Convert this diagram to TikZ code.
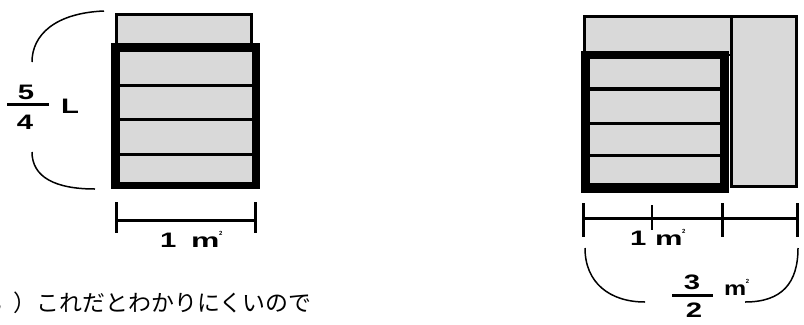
\documentclass[tikz,border=0pt]{standalone}
\usepackage{fontspec}
\usepackage{graphicx}
\setmainfont{Liberation Sans}
\newfontfamily\widesans{Liberation Sans}[FakeStretch=1.4]
\newfontfamily\jpfont{Noto Sans CJK JP}
\definecolor{lg}{RGB}{217,217,217}
\newcommand\sqm[1]{\scalebox{#1}[1]{\fontsize{20}{20}\selectfont\bfseries m}\kern-0.5bp\raisebox{11.5bp}{\fontsize{6}{6}\selectfont\bfseries 2}}
\tikzset{
  strip/.style={draw=black, fill=lg, line width=2.8bp},
  divider/.style={draw=black, line width=3bp},
  arcline/.style={draw=black, line width=1.5bp},
  dimline/.style={draw=black, line width=3bp},
  fracbar/.style={draw=black, line width=3bp},
  lbl/.style={inner sep=0pt, font=\widesans\fontsize{21}{21}\selectfont\bfseries},
}
\begin{document}
\begin{tikzpicture}[x=1bp,y=-1bp]
\useasboundingbox (0,0) rectangle (804,324);
\clip (0,0) rectangle (804,324);
% ---------- left figure ----------
\draw[strip] (116.5,14.5) rectangle (251.5,50);
\fill[black] (111,43) rectangle (260,189);
\fill[lg] (120,52) rectangle (252,182);
\foreach \y in {85,119,154} \draw[divider] (120,\y) -- (252,\y);
% left bracket
\draw[arcline] (104,11) .. controls (55,13) and (32,35) .. (32,62);
\draw[arcline] (32,152) .. controls (32,177) and (55,189) .. (95,189);
% fraction 5/4 L
\node[lbl] (five) at (26,92.5) {5};
\node[lbl] (four) at (25,122) {4};
\coordinate (fb1) at (7,104.5);
\coordinate (fb2) at (49,104.5);
\draw[fracbar] (fb1) -- (fb2);
\node[lbl] (L) at (70,106) {L};
% dimension
\coordinate (la1) at (116,202); \coordinate (la2) at (116,233);
\coordinate (lb1) at (255,202); \coordinate (lb2) at (255,233);
\coordinate (lh1) at (116,220); \coordinate (lh2) at (255,220);
\draw[dimline] (la1) -- (la2);
\draw[dimline] (lb1) -- (lb2);
\draw[dimline] (lh1) -- (lh2);
\node[lbl, anchor=base west] (one1) at (160,247) {1};
\node[inner sep=0pt, anchor=base west] (m1) at (191,247) {\sqm{1.6}};
% Japanese text
\node[anchor=base west, inner sep=0pt, font=\jpfont\fontsize{23}{23}\selectfont] (jp) at (-11,311.5) {3\kern12bp）これだとわかりにくいので};
% ---------- right figure ----------
\draw[strip] (731.5,16.5) rectangle (796.8,186.5);
\draw[strip] (584.2,16.5) rectangle (731.5,55);
\fill[black] (581,51) rectangle (729,193);
\fill[lg] (590,59) rectangle (720,183);
\draw[divider, line width=4bp] (590,88.5) -- (720,88.5);
\foreach \y in {123,155} \draw[divider] (590,\y) -- (720,\y);
% dimension
\coordinate (ra1) at (583,203); \coordinate (ra2) at (583,237);
\coordinate (rb1) at (652,205); \coordinate (rb2) at (652,230);
\coordinate (rc1) at (722,203); \coordinate (rc2) at (722,237);
\coordinate (rd1) at (797,203); \coordinate (rd2) at (797,237);
\coordinate (rh1) at (583,218); \coordinate (rh2) at (797,218);
\draw[dimline] (ra1) -- (ra2);
\draw[dimline, line width=2bp] (rb1) -- (rb2);
\draw[dimline] (rc1) -- (rc2);
\draw[dimline] (rd1) -- (rd2);
\draw[dimline] (rh1) -- (rh2);
\node[lbl, anchor=base west] (one2) at (630,245) {1};
\node[inner sep=0pt, anchor=base west] (m2) at (655,245) {\sqm{1.55}};
% bottom bracket
\draw[arcline] (585,248) .. controls (585,283) and (610,302) .. (645,302);
\draw[arcline] (745,302) .. controls (782,302) and (798,283) .. (798,248);
\node[lbl] (three) at (692,282.5) {3};
\coordinate (gb1) at (672,295.5);
\coordinate (gb2) at (713,295.5);
\draw[fracbar] (gb1) -- (gb2);
\node[lbl] (two) at (694,310.5) {2};
\node[inner sep=0pt, anchor=base west] (m3) at (724,295) {\sqm{1.25}};
\end{tikzpicture}
\end{document}
